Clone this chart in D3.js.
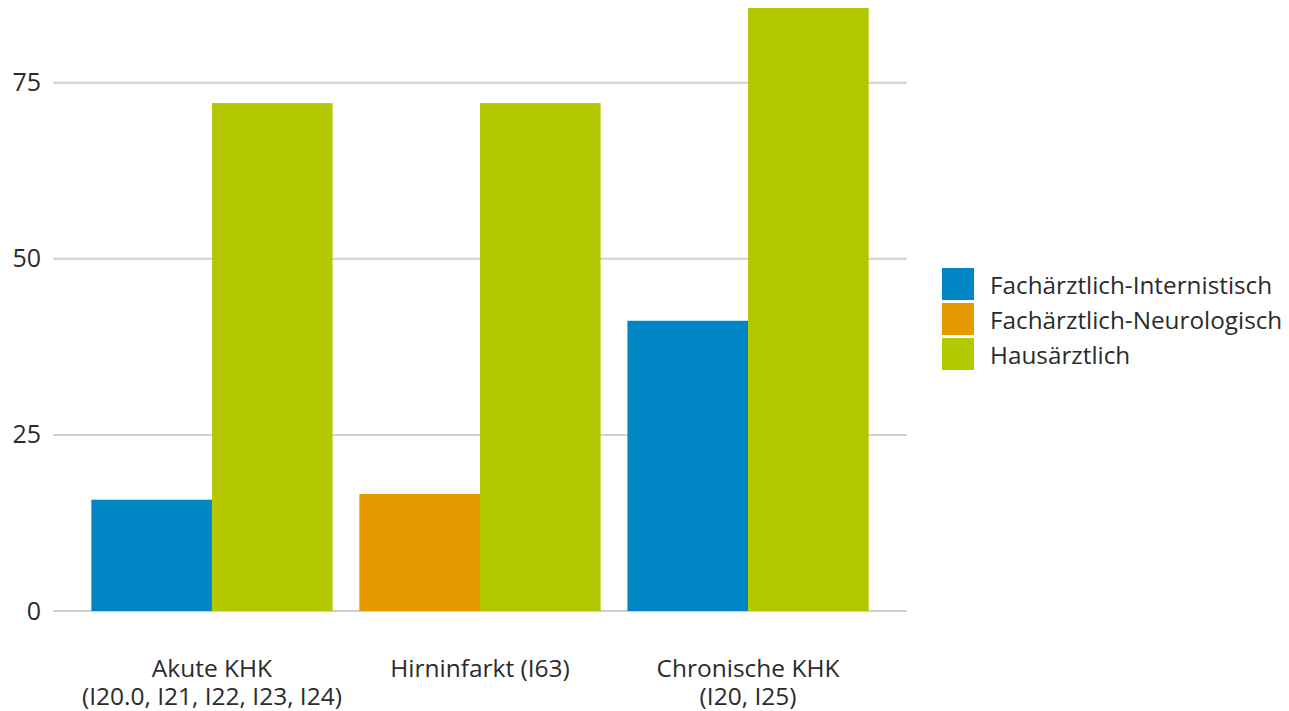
<!DOCTYPE html>
<html><head><meta charset="utf-8">
<script src="https://cdn.jsdelivr.net/npm/d3@7"></script>
<style>body{margin:0;background:#fff}svg text{font-family:"Open Sans",sans-serif;fill:#2b2b2b}</style>
</head><body>
<svg id="c" width="1289" height="711"></svg>
<script>
const categories = ["Akute KHK\n(I20.0, I21, I22, I23, I24)", "Hirninfarkt (I63)", "Chronische KHK\n(I20, I25)"];
const seriesNames = ["Fachärztlich-Internistisch", "Fachärztlich-Neurologisch", "Hausärztlich"];
const seriesColors = ["#0086c5", "#e59a00", "#b3c800"];
// bars per category: specialist series index and value, plus GP value
const specialistSeries = [0, 1, 0];
const specialistValues = [15.8, 16.6, 41.2];
const gpValues = [72.1, 72.1, 85.6];
const yTicks = [0, 25, 50, 75];

(function () {
const svg = d3.select("#c");
const pLeft = 53, pRight = 907, pTop = 8, pBottom = 611;
const y = d3.scaleLinear().domain([0, 85.6]).range([pBottom, pTop]);
const x = d3.scalePoint().domain(categories).range([pLeft, pRight]).padding(0.593);
const step = x.step();
const bw = step * 0.9 / 2;

// gridlines
svg.append("g").selectAll("line").data(yTicks).join("line")
  .attr("x1", pLeft).attr("x2", pRight)
  .attr("y1", d => y(d)).attr("y2", d => y(d))
  .attr("stroke", "#d0d0d0").attr("stroke-width", 2);

// y labels
const yAxis = d3.axisLeft(y).tickValues(yTicks).tickSize(0).tickPadding(0);
const ga = svg.append("g").attr("transform", `translate(41,0)`).call(yAxis);
ga.select(".domain").remove();
ga.selectAll("text").attr("font-size", 25).style("fill", "#2b2b2b").attr("font-family", "Open Sans");

// bars
const g = svg.append("g");
categories.forEach((c, i) => {
  const cx = x(c);
  g.append("rect").attr("x", cx - bw).attr("width", bw)
    .attr("y", y(specialistValues[i])).attr("height", y(0) - y(specialistValues[i]))
    .attr("fill", seriesColors[specialistSeries[i]]);
  g.append("rect").attr("x", cx).attr("width", bw)
    .attr("y", y(gpValues[i])).attr("height", y(0) - y(gpValues[i]))
    .attr("fill", seriesColors[2]);
});

// x labels
categories.forEach(c => {
  const lines = c.split("\n");
  const t = svg.append("text").attr("text-anchor", "middle").attr("font-size", 24.5);
  lines.forEach((l, k) => {
    t.append("tspan").attr("x", x(c)).attr("y", 677 + k * 28).text(l);
  });
});

// legend
const lg = svg.append("g").attr("transform", "translate(942,268)");
seriesNames.forEach((n, i) => {
  lg.append("rect").attr("x", 0).attr("y", i * 35).attr("width", 32).attr("height", 32).attr("fill", seriesColors[i]);
  lg.append("text").attr("x", 48).attr("y", i * 35 + 17).attr("dy", "0.35em").attr("font-size", 24.3).text(n);
});
})();
</script>
</body></html>
